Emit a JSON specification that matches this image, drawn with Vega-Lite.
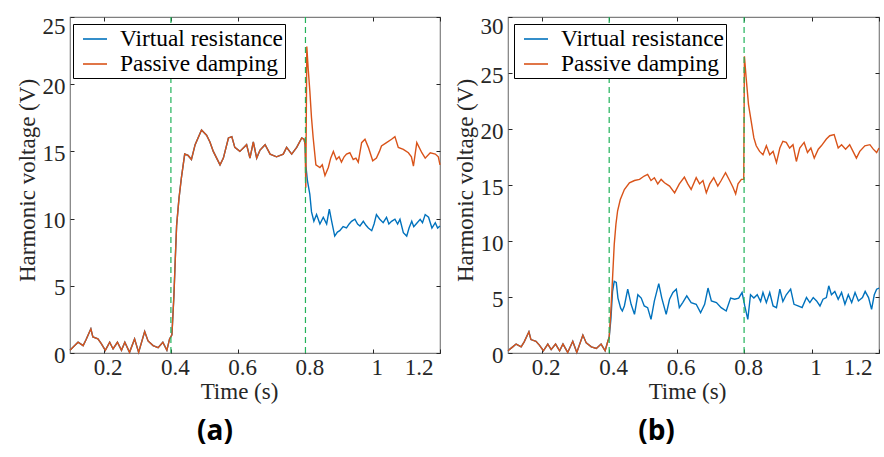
{
  "$schema": "https://vega.github.io/schema/vega-lite/v6.json",
  "background": "white",
  "padding": {"left": 15, "top": 14, "right": 4, "bottom": 0},
  "spacing": 68,
  "bounds": "flush",
  "resolve": {"scale": {"color": "independent"}, "legend": {"color": "independent"}},
  "config": {
    "view": {"stroke": "#7f7f7f", "strokeWidth": 1.2},
    "axis": {
      "labelFont": "Liberation Serif", "labelFontSize": 23, "labelColor": "#262626",
      "titleFont": "Liberation Serif", "titleFontSize": 23, "titleFontWeight": "normal", "titleColor": "#262626",
      "tickColor": "#262626", "tickSize": -4, "tickWidth": 1, "domain": false, "grid": false
    },
    "legend": {
      "strokeColor": "#000000", "fillColor": "#ffffff", "padding": 2, "symbolOffset": 7,
      "symbolType": "stroke", "symbolSize": 576, "symbolStrokeWidth": 1.6,
      "labelFont": "Liberation Serif", "labelFontSize": 23.4, "labelColor": "#000000",
      "labelOffset": 12, "labelLimit": 400, "rowPadding": 0, "orient": "none"
    }
  },
  "datasets": {
    "ev": [{"t": 0.4}, {"t": 0.8}],
    "a": [
      {"t":0.100,"v":0.2,"s":"Passive damping"},{"t":0.114,"v":0.55,"s":"Passive damping"},{"t":0.124,"v":0.8,"s":"Passive damping"},{"t":0.139,"v":0.55,"s":"Passive damping"},{"t":0.148,"v":1.0,"s":"Passive damping"},{"t":0.162,"v":1.8,"s":"Passive damping"},{"t":0.168,"v":1.2,"s":"Passive damping"},{"t":0.183,"v":1.05,"s":"Passive damping"},{"t":0.193,"v":0.7,"s":"Passive damping"},{"t":0.205,"v":0.2,"s":"Passive damping"},{"t":0.218,"v":0.8,"s":"Passive damping"},{"t":0.228,"v":0.3,"s":"Passive damping"},{"t":0.241,"v":0.8,"s":"Passive damping"},{"t":0.253,"v":0.2,"s":"Passive damping"},{"t":0.263,"v":0.8,"s":"Passive damping"},{"t":0.277,"v":0.05,"s":"Passive damping"},{"t":0.292,"v":1.05,"s":"Passive damping"},{"t":0.304,"v":0.05,"s":"Passive damping"},{"t":0.322,"v":1.6,"s":"Passive damping"},{"t":0.332,"v":0.9,"s":"Passive damping"},{"t":0.347,"v":0.55,"s":"Passive damping"},{"t":0.362,"v":0.4,"s":"Passive damping"},{"t":0.376,"v":0.8,"s":"Passive damping"},{"t":0.388,"v":0.2,"s":"Passive damping"},{"t":0.396,"v":1.05,"s":"Passive damping"},
      {"t":0.403,"v":1.35,"s":"Passive damping"},{"t":0.409,"v":4.3,"s":"Passive damping"},{"t":0.413,"v":7.0,"s":"Passive damping"},{"t":0.417,"v":9.5,"s":"Passive damping"},{"t":0.424,"v":11.5,"s":"Passive damping"},{"t":0.431,"v":13.0,"s":"Passive damping"},{"t":0.441,"v":14.8,"s":"Passive damping"},{"t":0.451,"v":14.7,"s":"Passive damping"},{"t":0.461,"v":14.4,"s":"Passive damping"},{"t":0.472,"v":15.5,"s":"Passive damping"},{"t":0.491,"v":16.6,"s":"Passive damping"},{"t":0.506,"v":16.2,"s":"Passive damping"},{"t":0.516,"v":15.7,"s":"Passive damping"},{"t":0.526,"v":15.0,"s":"Passive damping"},{"t":0.546,"v":14.0,"s":"Passive damping"},{"t":0.556,"v":14.5,"s":"Passive damping"},{"t":0.571,"v":16.0,"s":"Passive damping"},{"t":0.581,"v":16.1,"s":"Passive damping"},{"t":0.590,"v":15.3,"s":"Passive damping"},{"t":0.605,"v":15.0,"s":"Passive damping"},{"t":0.625,"v":15.5,"s":"Passive damping"},{"t":0.635,"v":14.5,"s":"Passive damping"},{"t":0.645,"v":15.7,"s":"Passive damping"},{"t":0.655,"v":14.5,"s":"Passive damping"},{"t":0.665,"v":15.1,"s":"Passive damping"},{"t":0.680,"v":15.5,"s":"Passive damping"},{"t":0.695,"v":14.8,"s":"Passive damping"},{"t":0.714,"v":14.6,"s":"Passive damping"},{"t":0.734,"v":14.8,"s":"Passive damping"},{"t":0.744,"v":15.3,"s":"Passive damping"},{"t":0.759,"v":14.8,"s":"Passive damping"},{"t":0.774,"v":15.3,"s":"Passive damping"},{"t":0.789,"v":16.0,"s":"Passive damping"},{"t":0.796,"v":15.9,"s":"Passive damping"},{"t":0.799,"v":15.5,"s":"Passive damping"},
      {"t":0.801,"v":12.3,"s":"Passive damping"},{"t":0.804,"v":22.8,"s":"Passive damping"},{"t":0.808,"v":21.2,"s":"Passive damping"},{"t":0.813,"v":19.5,"s":"Passive damping"},{"t":0.818,"v":17.5,"s":"Passive damping"},{"t":0.823,"v":16.0,"s":"Passive damping"},{"t":0.831,"v":14.0,"s":"Passive damping"},{"t":0.843,"v":13.8,"s":"Passive damping"},{"t":0.850,"v":14.0,"s":"Passive damping"},{"t":0.858,"v":13.2,"s":"Passive damping"},{"t":0.868,"v":13.8,"s":"Passive damping"},{"t":0.875,"v":14.5,"s":"Passive damping"},{"t":0.883,"v":15.0,"s":"Passive damping"},{"t":0.892,"v":14.4,"s":"Passive damping"},{"t":0.900,"v":14.6,"s":"Passive damping"},{"t":0.907,"v":14.2,"s":"Passive damping"},{"t":0.915,"v":14.6,"s":"Passive damping"},{"t":0.922,"v":14.8,"s":"Passive damping"},{"t":0.932,"v":14.9,"s":"Passive damping"},{"t":0.942,"v":14.4,"s":"Passive damping"},{"t":0.950,"v":14.5,"s":"Passive damping"},{"t":0.957,"v":14.2,"s":"Passive damping"},{"t":0.967,"v":15.65,"s":"Passive damping"},{"t":0.977,"v":15.9,"s":"Passive damping"},{"t":0.987,"v":15.3,"s":"Passive damping"},{"t":1.000,"v":14.3,"s":"Passive damping"},{"t":1.011,"v":14.5,"s":"Passive damping"},{"t":1.020,"v":15.0,"s":"Passive damping"},{"t":1.026,"v":15.4,"s":"Passive damping"},{"t":1.041,"v":15.65,"s":"Passive damping"},{"t":1.056,"v":15.9,"s":"Passive damping"},{"t":1.066,"v":16.1,"s":"Passive damping"},{"t":1.076,"v":15.3,"s":"Passive damping"},{"t":1.091,"v":15.15,"s":"Passive damping"},{"t":1.106,"v":14.9,"s":"Passive damping"},{"t":1.115,"v":14.6,"s":"Passive damping"},{"t":1.121,"v":13.9,"s":"Passive damping"},{"t":1.131,"v":15.65,"s":"Passive damping"},{"t":1.146,"v":14.9,"s":"Passive damping"},{"t":1.156,"v":14.5,"s":"Passive damping"},{"t":1.171,"v":14.9,"s":"Passive damping"},{"t":1.186,"v":14.8,"s":"Passive damping"},{"t":1.195,"v":14.6,"s":"Passive damping"},{"t":1.200,"v":14.0,"s":"Passive damping"},
      {"t":0.100,"v":0.2,"s":"Virtual resistance"},{"t":0.114,"v":0.55,"s":"Virtual resistance"},{"t":0.124,"v":0.8,"s":"Virtual resistance"},{"t":0.139,"v":0.55,"s":"Virtual resistance"},{"t":0.148,"v":1.0,"s":"Virtual resistance"},{"t":0.162,"v":1.8,"s":"Virtual resistance"},{"t":0.168,"v":1.2,"s":"Virtual resistance"},{"t":0.183,"v":1.05,"s":"Virtual resistance"},{"t":0.193,"v":0.7,"s":"Virtual resistance"},{"t":0.205,"v":0.2,"s":"Virtual resistance"},{"t":0.218,"v":0.8,"s":"Virtual resistance"},{"t":0.228,"v":0.3,"s":"Virtual resistance"},{"t":0.241,"v":0.8,"s":"Virtual resistance"},{"t":0.253,"v":0.2,"s":"Virtual resistance"},{"t":0.263,"v":0.8,"s":"Virtual resistance"},{"t":0.277,"v":0.05,"s":"Virtual resistance"},{"t":0.292,"v":1.05,"s":"Virtual resistance"},{"t":0.304,"v":0.05,"s":"Virtual resistance"},{"t":0.322,"v":1.6,"s":"Virtual resistance"},{"t":0.332,"v":0.9,"s":"Virtual resistance"},{"t":0.347,"v":0.55,"s":"Virtual resistance"},{"t":0.362,"v":0.4,"s":"Virtual resistance"},{"t":0.376,"v":0.8,"s":"Virtual resistance"},{"t":0.388,"v":0.2,"s":"Virtual resistance"},{"t":0.396,"v":1.05,"s":"Virtual resistance"},
      {"t":0.403,"v":1.35,"s":"Virtual resistance"},{"t":0.409,"v":4.3,"s":"Virtual resistance"},{"t":0.413,"v":7.0,"s":"Virtual resistance"},{"t":0.417,"v":9.5,"s":"Virtual resistance"},{"t":0.424,"v":11.5,"s":"Virtual resistance"},{"t":0.431,"v":13.0,"s":"Virtual resistance"},{"t":0.441,"v":14.8,"s":"Virtual resistance"},{"t":0.451,"v":14.7,"s":"Virtual resistance"},{"t":0.461,"v":14.4,"s":"Virtual resistance"},{"t":0.472,"v":15.5,"s":"Virtual resistance"},{"t":0.491,"v":16.6,"s":"Virtual resistance"},{"t":0.506,"v":16.2,"s":"Virtual resistance"},{"t":0.516,"v":15.7,"s":"Virtual resistance"},{"t":0.526,"v":15.0,"s":"Virtual resistance"},{"t":0.546,"v":14.0,"s":"Virtual resistance"},{"t":0.556,"v":14.5,"s":"Virtual resistance"},{"t":0.571,"v":16.0,"s":"Virtual resistance"},{"t":0.581,"v":16.1,"s":"Virtual resistance"},{"t":0.590,"v":15.3,"s":"Virtual resistance"},{"t":0.605,"v":15.0,"s":"Virtual resistance"},{"t":0.625,"v":15.5,"s":"Virtual resistance"},{"t":0.635,"v":14.5,"s":"Virtual resistance"},{"t":0.645,"v":15.7,"s":"Virtual resistance"},{"t":0.655,"v":14.5,"s":"Virtual resistance"},{"t":0.665,"v":15.1,"s":"Virtual resistance"},{"t":0.680,"v":15.5,"s":"Virtual resistance"},{"t":0.695,"v":14.8,"s":"Virtual resistance"},{"t":0.714,"v":14.6,"s":"Virtual resistance"},{"t":0.734,"v":14.8,"s":"Virtual resistance"},{"t":0.744,"v":15.3,"s":"Virtual resistance"},{"t":0.759,"v":14.8,"s":"Virtual resistance"},{"t":0.774,"v":15.3,"s":"Virtual resistance"},{"t":0.789,"v":16.0,"s":"Virtual resistance"},{"t":0.796,"v":15.9,"s":"Virtual resistance"},{"t":0.799,"v":15.5,"s":"Virtual resistance"},
      {"t":0.801,"v":14.0,"s":"Virtual resistance"},{"t":0.806,"v":12.8,"s":"Virtual resistance"},{"t":0.813,"v":11.8,"s":"Virtual resistance"},{"t":0.818,"v":10.5,"s":"Virtual resistance"},{"t":0.825,"v":9.8,"s":"Virtual resistance"},{"t":0.833,"v":10.3,"s":"Virtual resistance"},{"t":0.843,"v":9.6,"s":"Virtual resistance"},{"t":0.853,"v":10.1,"s":"Virtual resistance"},{"t":0.863,"v":9.6,"s":"Virtual resistance"},{"t":0.871,"v":10.7,"s":"Virtual resistance"},{"t":0.878,"v":9.8,"s":"Virtual resistance"},{"t":0.887,"v":8.7,"s":"Virtual resistance"},{"t":0.895,"v":9.0,"s":"Virtual resistance"},{"t":0.902,"v":9.1,"s":"Virtual resistance"},{"t":0.912,"v":9.4,"s":"Virtual resistance"},{"t":0.922,"v":9.3,"s":"Virtual resistance"},{"t":0.930,"v":9.6,"s":"Virtual resistance"},{"t":0.937,"v":9.8,"s":"Virtual resistance"},{"t":0.947,"v":9.95,"s":"Virtual resistance"},{"t":0.955,"v":9.6,"s":"Virtual resistance"},{"t":0.962,"v":9.45,"s":"Virtual resistance"},{"t":0.972,"v":9.8,"s":"Virtual resistance"},{"t":0.980,"v":9.5,"s":"Virtual resistance"},{"t":0.987,"v":9.3,"s":"Virtual resistance"},{"t":0.997,"v":9.1,"s":"Virtual resistance"},{"t":1.004,"v":9.6,"s":"Virtual resistance"},{"t":1.011,"v":10.3,"s":"Virtual resistance"},{"t":1.021,"v":9.95,"s":"Virtual resistance"},{"t":1.031,"v":9.7,"s":"Virtual resistance"},{"t":1.041,"v":10.1,"s":"Virtual resistance"},{"t":1.048,"v":9.6,"s":"Virtual resistance"},{"t":1.056,"v":9.8,"s":"Virtual resistance"},{"t":1.066,"v":9.95,"s":"Virtual resistance"},{"t":1.074,"v":9.6,"s":"Virtual resistance"},{"t":1.081,"v":9.95,"s":"Virtual resistance"},{"t":1.091,"v":8.95,"s":"Virtual resistance"},{"t":1.101,"v":8.7,"s":"Virtual resistance"},{"t":1.108,"v":9.3,"s":"Virtual resistance"},{"t":1.116,"v":9.8,"s":"Virtual resistance"},{"t":1.122,"v":9.4,"s":"Virtual resistance"},{"t":1.129,"v":9.6,"s":"Virtual resistance"},{"t":1.141,"v":9.95,"s":"Virtual resistance"},{"t":1.148,"v":9.7,"s":"Virtual resistance"},{"t":1.156,"v":10.3,"s":"Virtual resistance"},{"t":1.166,"v":10.1,"s":"Virtual resistance"},{"t":1.176,"v":9.3,"s":"Virtual resistance"},{"t":1.186,"v":9.7,"s":"Virtual resistance"},{"t":1.193,"v":9.3,"s":"Virtual resistance"},{"t":1.200,"v":9.45,"s":"Virtual resistance"}
    ],
    "b": [
      {"t":0.100,"v":0.2,"s":"Passive damping"},{"t":0.114,"v":0.55,"s":"Passive damping"},{"t":0.124,"v":0.8,"s":"Passive damping"},{"t":0.139,"v":0.55,"s":"Passive damping"},{"t":0.148,"v":1.0,"s":"Passive damping"},{"t":0.162,"v":1.9,"s":"Passive damping"},{"t":0.168,"v":1.2,"s":"Passive damping"},{"t":0.183,"v":1.05,"s":"Passive damping"},{"t":0.193,"v":0.7,"s":"Passive damping"},{"t":0.205,"v":0.2,"s":"Passive damping"},{"t":0.218,"v":0.8,"s":"Passive damping"},{"t":0.228,"v":0.3,"s":"Passive damping"},{"t":0.241,"v":0.8,"s":"Passive damping"},{"t":0.253,"v":0.2,"s":"Passive damping"},{"t":0.263,"v":0.8,"s":"Passive damping"},{"t":0.277,"v":0.05,"s":"Passive damping"},{"t":0.292,"v":1.05,"s":"Passive damping"},{"t":0.304,"v":0.05,"s":"Passive damping"},{"t":0.322,"v":1.6,"s":"Passive damping"},{"t":0.332,"v":0.9,"s":"Passive damping"},{"t":0.347,"v":0.55,"s":"Passive damping"},{"t":0.362,"v":0.4,"s":"Passive damping"},{"t":0.376,"v":0.8,"s":"Passive damping"},{"t":0.388,"v":0.2,"s":"Passive damping"},{"t":0.396,"v":1.05,"s":"Passive damping"},
      {"t":0.400,"v":1.4,"s":"Passive damping"},{"t":0.405,"v":3.75,"s":"Passive damping"},{"t":0.410,"v":6.7,"s":"Passive damping"},{"t":0.415,"v":9.7,"s":"Passive damping"},{"t":0.420,"v":11.5,"s":"Passive damping"},{"t":0.425,"v":12.7,"s":"Passive damping"},{"t":0.433,"v":13.7,"s":"Passive damping"},{"t":0.445,"v":14.6,"s":"Passive damping"},{"t":0.460,"v":15.2,"s":"Passive damping"},{"t":0.475,"v":15.4,"s":"Passive damping"},{"t":0.490,"v":15.5,"s":"Passive damping"},{"t":0.504,"v":15.8,"s":"Passive damping"},{"t":0.514,"v":15.95,"s":"Passive damping"},{"t":0.524,"v":15.4,"s":"Passive damping"},{"t":0.534,"v":15.65,"s":"Passive damping"},{"t":0.544,"v":15.1,"s":"Passive damping"},{"t":0.554,"v":15.5,"s":"Passive damping"},{"t":0.564,"v":15.2,"s":"Passive damping"},{"t":0.579,"v":14.9,"s":"Passive damping"},{"t":0.594,"v":14.3,"s":"Passive damping"},{"t":0.608,"v":15.1,"s":"Passive damping"},{"t":0.623,"v":15.7,"s":"Passive damping"},{"t":0.633,"v":15.1,"s":"Passive damping"},{"t":0.643,"v":14.6,"s":"Passive damping"},{"t":0.658,"v":15.65,"s":"Passive damping"},{"t":0.668,"v":15.1,"s":"Passive damping"},{"t":0.678,"v":15.4,"s":"Passive damping"},{"t":0.688,"v":14.3,"s":"Passive damping"},{"t":0.698,"v":15.1,"s":"Passive damping"},{"t":0.710,"v":15.65,"s":"Passive damping"},{"t":0.722,"v":14.9,"s":"Passive damping"},{"t":0.732,"v":15.4,"s":"Passive damping"},{"t":0.745,"v":16.1,"s":"Passive damping"},{"t":0.757,"v":15.4,"s":"Passive damping"},{"t":0.767,"v":14.8,"s":"Passive damping"},{"t":0.775,"v":14.2,"s":"Passive damping"},{"t":0.782,"v":15.1,"s":"Passive damping"},{"t":0.792,"v":15.5,"s":"Passive damping"},{"t":0.799,"v":15.5,"s":"Passive damping"},
      {"t":0.801,"v":26.5,"s":"Passive damping"},{"t":0.806,"v":24.6,"s":"Passive damping"},{"t":0.813,"v":22.2,"s":"Passive damping"},{"t":0.821,"v":20.7,"s":"Passive damping"},{"t":0.829,"v":19.2,"s":"Passive damping"},{"t":0.836,"v":18.5,"s":"Passive damping"},{"t":0.846,"v":18.0,"s":"Passive damping"},{"t":0.856,"v":17.7,"s":"Passive damping"},{"t":0.866,"v":18.5,"s":"Passive damping"},{"t":0.876,"v":17.7,"s":"Passive damping"},{"t":0.886,"v":18.0,"s":"Passive damping"},{"t":0.896,"v":17.0,"s":"Passive damping"},{"t":0.906,"v":18.3,"s":"Passive damping"},{"t":0.915,"v":18.9,"s":"Passive damping"},{"t":0.925,"v":18.8,"s":"Passive damping"},{"t":0.935,"v":18.3,"s":"Passive damping"},{"t":0.945,"v":18.6,"s":"Passive damping"},{"t":0.955,"v":17.1,"s":"Passive damping"},{"t":0.965,"v":18.3,"s":"Passive damping"},{"t":0.978,"v":18.8,"s":"Passive damping"},{"t":0.988,"v":17.9,"s":"Passive damping"},{"t":0.998,"v":18.3,"s":"Passive damping"},{"t":1.008,"v":17.4,"s":"Passive damping"},{"t":1.020,"v":18.2,"s":"Passive damping"},{"t":1.029,"v":18.5,"s":"Passive damping"},{"t":1.044,"v":19.1,"s":"Passive damping"},{"t":1.054,"v":19.4,"s":"Passive damping"},{"t":1.067,"v":19.5,"s":"Passive damping"},{"t":1.079,"v":18.3,"s":"Passive damping"},{"t":1.089,"v":18.6,"s":"Passive damping"},{"t":1.101,"v":18.2,"s":"Passive damping"},{"t":1.113,"v":18.6,"s":"Passive damping"},{"t":1.123,"v":18.0,"s":"Passive damping"},{"t":1.133,"v":17.4,"s":"Passive damping"},{"t":1.143,"v":18.0,"s":"Passive damping"},{"t":1.158,"v":18.5,"s":"Passive damping"},{"t":1.173,"v":18.6,"s":"Passive damping"},{"t":1.183,"v":18.2,"s":"Passive damping"},{"t":1.193,"v":17.9,"s":"Passive damping"},{"t":1.200,"v":18.3,"s":"Passive damping"},
      {"t":0.100,"v":0.2,"s":"Virtual resistance"},{"t":0.114,"v":0.55,"s":"Virtual resistance"},{"t":0.124,"v":0.8,"s":"Virtual resistance"},{"t":0.139,"v":0.55,"s":"Virtual resistance"},{"t":0.148,"v":1.0,"s":"Virtual resistance"},{"t":0.162,"v":1.9,"s":"Virtual resistance"},{"t":0.168,"v":1.2,"s":"Virtual resistance"},{"t":0.183,"v":1.05,"s":"Virtual resistance"},{"t":0.193,"v":0.7,"s":"Virtual resistance"},{"t":0.205,"v":0.2,"s":"Virtual resistance"},{"t":0.218,"v":0.8,"s":"Virtual resistance"},{"t":0.228,"v":0.3,"s":"Virtual resistance"},{"t":0.241,"v":0.8,"s":"Virtual resistance"},{"t":0.253,"v":0.2,"s":"Virtual resistance"},{"t":0.263,"v":0.8,"s":"Virtual resistance"},{"t":0.277,"v":0.05,"s":"Virtual resistance"},{"t":0.292,"v":1.05,"s":"Virtual resistance"},{"t":0.304,"v":0.05,"s":"Virtual resistance"},{"t":0.322,"v":1.6,"s":"Virtual resistance"},{"t":0.332,"v":0.9,"s":"Virtual resistance"},{"t":0.347,"v":0.55,"s":"Virtual resistance"},{"t":0.362,"v":0.4,"s":"Virtual resistance"},{"t":0.376,"v":0.8,"s":"Virtual resistance"},{"t":0.388,"v":0.2,"s":"Virtual resistance"},{"t":0.396,"v":1.05,"s":"Virtual resistance"},
      {"t":0.400,"v":1.4,"s":"Virtual resistance"},{"t":0.405,"v":3.0,"s":"Virtual resistance"},{"t":0.410,"v":5.5,"s":"Virtual resistance"},{"t":0.415,"v":6.4,"s":"Virtual resistance"},{"t":0.421,"v":6.3,"s":"Virtual resistance"},{"t":0.426,"v":4.9,"s":"Virtual resistance"},{"t":0.434,"v":4.0,"s":"Virtual resistance"},{"t":0.439,"v":3.75,"s":"Virtual resistance"},{"t":0.445,"v":4.2,"s":"Virtual resistance"},{"t":0.455,"v":5.7,"s":"Virtual resistance"},{"t":0.465,"v":4.35,"s":"Virtual resistance"},{"t":0.475,"v":3.45,"s":"Virtual resistance"},{"t":0.485,"v":5.2,"s":"Virtual resistance"},{"t":0.495,"v":4.9,"s":"Virtual resistance"},{"t":0.504,"v":4.2,"s":"Virtual resistance"},{"t":0.514,"v":4.05,"s":"Virtual resistance"},{"t":0.524,"v":3.0,"s":"Virtual resistance"},{"t":0.534,"v":4.65,"s":"Virtual resistance"},{"t":0.547,"v":6.2,"s":"Virtual resistance"},{"t":0.556,"v":4.9,"s":"Virtual resistance"},{"t":0.569,"v":3.45,"s":"Virtual resistance"},{"t":0.579,"v":4.8,"s":"Virtual resistance"},{"t":0.589,"v":5.4,"s":"Virtual resistance"},{"t":0.599,"v":5.7,"s":"Virtual resistance"},{"t":0.608,"v":4.05,"s":"Virtual resistance"},{"t":0.618,"v":4.5,"s":"Virtual resistance"},{"t":0.630,"v":5.1,"s":"Virtual resistance"},{"t":0.643,"v":4.5,"s":"Virtual resistance"},{"t":0.658,"v":4.35,"s":"Virtual resistance"},{"t":0.671,"v":3.6,"s":"Virtual resistance"},{"t":0.683,"v":4.35,"s":"Virtual resistance"},{"t":0.693,"v":5.8,"s":"Virtual resistance"},{"t":0.703,"v":4.65,"s":"Virtual resistance"},{"t":0.718,"v":4.5,"s":"Virtual resistance"},{"t":0.732,"v":4.05,"s":"Virtual resistance"},{"t":0.747,"v":3.75,"s":"Virtual resistance"},{"t":0.760,"v":4.9,"s":"Virtual resistance"},{"t":0.772,"v":4.8,"s":"Virtual resistance"},{"t":0.784,"v":4.9,"s":"Virtual resistance"},{"t":0.794,"v":5.4,"s":"Virtual resistance"},{"t":0.802,"v":4.2,"s":"Virtual resistance"},{"t":0.811,"v":3.0,"s":"Virtual resistance"},{"t":0.819,"v":5.2,"s":"Virtual resistance"},{"t":0.829,"v":4.9,"s":"Virtual resistance"},{"t":0.839,"v":5.2,"s":"Virtual resistance"},{"t":0.849,"v":4.6,"s":"Virtual resistance"},{"t":0.856,"v":5.4,"s":"Virtual resistance"},{"t":0.866,"v":4.5,"s":"Virtual resistance"},{"t":0.876,"v":5.4,"s":"Virtual resistance"},{"t":0.886,"v":4.2,"s":"Virtual resistance"},{"t":0.896,"v":4.05,"s":"Virtual resistance"},{"t":0.906,"v":5.7,"s":"Virtual resistance"},{"t":0.915,"v":4.6,"s":"Virtual resistance"},{"t":0.925,"v":5.2,"s":"Virtual resistance"},{"t":0.938,"v":5.7,"s":"Virtual resistance"},{"t":0.948,"v":4.35,"s":"Virtual resistance"},{"t":0.960,"v":4.2,"s":"Virtual resistance"},{"t":0.972,"v":4.05,"s":"Virtual resistance"},{"t":0.985,"v":4.95,"s":"Virtual resistance"},{"t":0.995,"v":4.5,"s":"Virtual resistance"},{"t":1.005,"v":4.95,"s":"Virtual resistance"},{"t":1.015,"v":4.65,"s":"Virtual resistance"},{"t":1.025,"v":4.2,"s":"Virtual resistance"},{"t":1.034,"v":4.8,"s":"Virtual resistance"},{"t":1.044,"v":4.95,"s":"Virtual resistance"},{"t":1.051,"v":6.0,"s":"Virtual resistance"},{"t":1.059,"v":5.2,"s":"Virtual resistance"},{"t":1.069,"v":5.5,"s":"Virtual resistance"},{"t":1.079,"v":4.8,"s":"Virtual resistance"},{"t":1.089,"v":5.4,"s":"Virtual resistance"},{"t":1.099,"v":4.35,"s":"Virtual resistance"},{"t":1.109,"v":5.2,"s":"Virtual resistance"},{"t":1.119,"v":4.5,"s":"Virtual resistance"},{"t":1.129,"v":5.4,"s":"Virtual resistance"},{"t":1.139,"v":4.65,"s":"Virtual resistance"},{"t":1.151,"v":4.95,"s":"Virtual resistance"},{"t":1.159,"v":5.5,"s":"Virtual resistance"},{"t":1.169,"v":4.95,"s":"Virtual resistance"},{"t":1.178,"v":3.9,"s":"Virtual resistance"},{"t":1.186,"v":5.2,"s":"Virtual resistance"},{"t":1.193,"v":5.7,"s":"Virtual resistance"},{"t":1.200,"v":5.8,"s":"Virtual resistance"}
    ]
  },
  "hconcat": [
    {
      "width": 370, "height": 336,
      "data": {"name": "a"},
      "title": {"text": "(a)", "orient": "bottom", "anchor": "middle", "dx": -40, "offset": 15, "font": "Open Sans", "fontSize": 28, "fontWeight": "bold", "color": "#000000"},
      "layer": [
        {
          "transform": [{"filter": "datum.s == 'Virtual resistance'"}],
          "mark": {"type": "line", "strokeWidth": 1.4},
          "encoding": {
            "x": {"field": "t", "type": "quantitative", "scale": {"domain": [0.1, 1.2], "nice": false, "zero": false},
                  "axis": {"values": [0.2, 0.4, 0.6, 0.8, 1, 1.2], "format": "~g", "title": "Time (s)", "labelPadding": 7, "titlePadding": 1, "titleX": 169,
                           "labelOffset": {"condition": {"test": "datum.value >= 1.19", "value": -7}, "value": 4}}},
            "y": {"field": "v", "type": "quantitative", "scale": {"domain": [0, 25], "nice": false},
                  "axis": {"values": [0, 5, 10, 15, 20, 25], "title": "Harmonic voltage (V)", "labelPadding": 9, "titlePadding": 3, "titleY": 163,
                           "labelOffset": {"condition": {"test": "datum.value >= 25", "value": 9}, "value": 2}}},
            "color": {"field": "s", "type": "nominal", "scale": {"domain": ["Virtual resistance", "Passive damping"], "range": ["#0072BD", "#D95319"]},
                      "legend": {"title": null, "legendX": 3, "legendY": 7, "labelExpr": "datum.label == 'Passive damping' ? '\u00a0' + datum.label : datum.label + '\u00a0'"}}
          }
        },
        {
          "transform": [{"filter": "datum.s == 'Passive damping'"}],
          "mark": {"type": "line", "strokeWidth": 1.4},
          "encoding": {
            "x": {"field": "t", "type": "quantitative", "axis": null},
            "y": {"field": "v", "type": "quantitative", "axis": null},
            "color": {"field": "s", "type": "nominal"}
          }
        },
        {
          "data": {"name": "ev"},
          "mark": {"type": "rule", "color": "#22b35a", "strokeDash": [6, 4], "strokeWidth": 1.2},
          "encoding": {
            "x": {"field": "t", "type": "quantitative", "axis": {"orient": "top", "values": [0.2, 0.4, 0.6, 0.8, 1, 1.2], "labels": false, "title": null}},
            "y": {"datum": 0, "type": "quantitative", "axis": {"orient": "right", "values": [0, 5, 10, 15, 20, 25], "labels": false, "title": null}},
            "y2": {"datum": 25}
          }
        }
      ],
      "resolve": {"axis": {"x": "independent", "y": "independent"}}
    },
    {
      "width": 371, "height": 336,
      "data": {"name": "b"},
      "title": {"text": "(b)", "orient": "bottom", "anchor": "middle", "dx": -37, "offset": 15, "font": "Open Sans", "fontSize": 28, "fontWeight": "bold", "color": "#000000"},
      "layer": [
        {
          "transform": [{"filter": "datum.s == 'Virtual resistance'"}],
          "mark": {"type": "line", "strokeWidth": 1.4},
          "encoding": {
            "x": {"field": "t", "type": "quantitative", "scale": {"domain": [0.1, 1.2], "nice": false, "zero": false},
                  "axis": {"values": [0.2, 0.4, 0.6, 0.8, 1, 1.2], "format": "~g", "title": "Time (s)", "labelPadding": 7, "titlePadding": 1, "titleX": 179,
                           "labelOffset": {"condition": {"test": "datum.value >= 1.19", "value": -7}, "value": 4}}},
            "y": {"field": "v", "type": "quantitative", "scale": {"domain": [0, 30], "nice": false},
                  "axis": {"values": [0, 5, 10, 15, 20, 25, 30], "title": "Harmonic voltage (V)", "labelPadding": 9, "titlePadding": 3, "titleY": 163,
                           "labelOffset": {"condition": {"test": "datum.value >= 30", "value": 9}, "value": 2}}},
            "color": {"field": "s", "type": "nominal", "scale": {"domain": ["Virtual resistance", "Passive damping"], "range": ["#0072BD", "#D95319"]},
                      "legend": {"title": null, "legendX": 6, "legendY": 7, "labelExpr": "datum.label == 'Passive damping' ? '\u00a0' + datum.label : datum.label + '\u00a0'"}}
          }
        },
        {
          "transform": [{"filter": "datum.s == 'Passive damping'"}],
          "mark": {"type": "line", "strokeWidth": 1.4},
          "encoding": {
            "x": {"field": "t", "type": "quantitative", "axis": null},
            "y": {"field": "v", "type": "quantitative", "axis": null},
            "color": {"field": "s", "type": "nominal"}
          }
        },
        {
          "data": {"name": "ev"},
          "mark": {"type": "rule", "color": "#22b35a", "strokeDash": [6, 4], "strokeWidth": 1.2},
          "encoding": {
            "x": {"field": "t", "type": "quantitative", "axis": {"orient": "top", "values": [0.2, 0.4, 0.6, 0.8, 1, 1.2], "labels": false, "title": null}},
            "y": {"datum": 0, "type": "quantitative", "axis": {"orient": "right", "values": [0, 5, 10, 15, 20, 25, 30], "labels": false, "title": null}},
            "y2": {"datum": 30}
          }
        }
      ],
      "resolve": {"axis": {"x": "independent", "y": "independent"}}
    }
  ]
}
